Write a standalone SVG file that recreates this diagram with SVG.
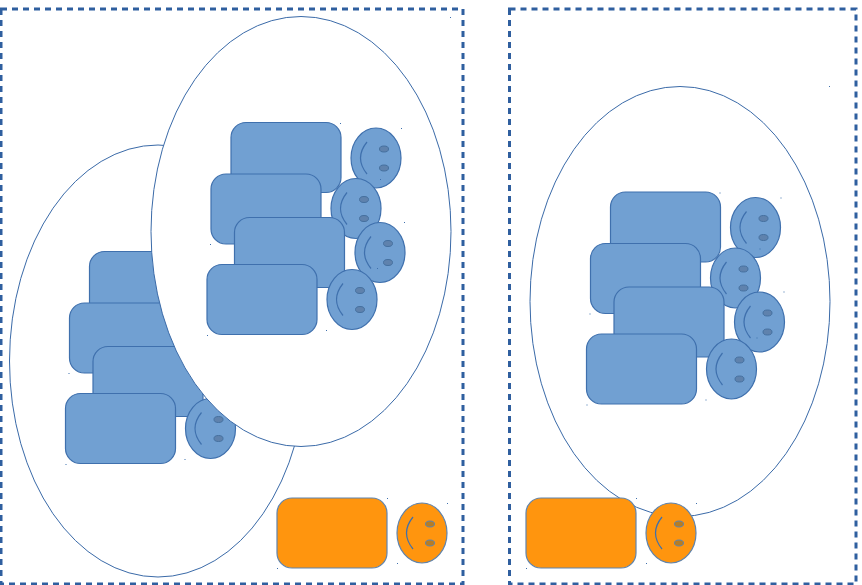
<svg xmlns="http://www.w3.org/2000/svg" width="862" height="585" viewBox="0 0 862 585">
<style>
.frame{fill:none;stroke:#2f5f9f;stroke-width:3;stroke-dasharray:6 5}
.zone{fill:#fff;stroke:#3a6aa8;stroke-width:1}
.b{fill:#71a0d2;stroke:#3f70ad;stroke-width:1.2}
.o{fill:#ff950e;stroke:#5f84ae;stroke-width:1.2}
.smile{fill:none;stroke:#3f70ad;stroke-width:1.2}
.be{fill:#5f82ad;stroke:#45709f;stroke-width:1}
.oe{fill:#b67d25;stroke:#5f84ae;stroke-width:1}
.dot{fill:#3f70ad}
</style>
<defs>
<rect id="box" width="110" height="70" rx="15"/>
<g id="bf"><ellipse class="b" cx="25" cy="30" rx="25" ry="30"/><path class="smile" d="M16 14Q3 30 16 46"/><ellipse class="be" cx="33" cy="21" rx="4.500" ry="3"/><ellipse class="be" cx="33" cy="40" rx="4.500" ry="3"/></g>
<g id="of"><ellipse class="o" cx="25" cy="30" rx="25" ry="30"/><path class="smile" d="M16 14Q3 30 16 46"/><ellipse class="oe" cx="33" cy="21" rx="4.500" ry="3"/><ellipse class="oe" cx="33" cy="40" rx="4.500" ry="3"/></g>
<g id="set">
<use href="#box" class="b" x="231" y="122.500"/><use href="#bf" x="351" y="128"/>
<use href="#box" class="b" x="211" y="174"/><use href="#bf" x="331" y="178.500"/>
<use href="#box" class="b" x="234.500" y="217.500"/><use href="#bf" x="355" y="222.500"/>
<use href="#box" class="b" x="207" y="264.500"/><use href="#bf" x="327" y="269.500"/>
<g class="dot"><rect x="340" y="123" width="1" height="1"/><rect x="401" y="128" width="1" height="1"/><rect x="380" y="179" width="1" height="1"/><rect x="210" y="244" width="1" height="1"/><rect x="404" y="222" width="1" height="1"/><rect x="377" y="268" width="1" height="1"/><rect x="326" y="330" width="1" height="1"/><rect x="207" y="335" width="1" height="1"/></g>
</g>
</defs>
<g id="frame-left"><rect class="frame" x="1" y="9" width="462" height="575"/><rect class="dot" x="450" y="17" width="1" height="1"/></g>
<g id="frame-right"><rect class="frame" x="509.500" y="9" width="346.500" height="575"/><rect class="dot" x="829" y="86" width="1" height="1"/></g>
<g id="zone-left"><ellipse class="zone" cx="158" cy="361" rx="148.500" ry="216"/></g>
<g id="set-left" transform="translate(-141.500 129)"><use href="#set"/></g>
<g id="zone-top"><ellipse class="zone" cx="301" cy="231.500" rx="150" ry="215"/></g>
<g id="set-top"><use href="#set"/></g>
<g id="zone-right"><ellipse class="zone" cx="680" cy="301.500" rx="150" ry="215"/></g>
<g id="set-right" transform="translate(379.500 69.500)"><use href="#set"/></g>
<g id="orange-left"><use href="#box" class="o" x="277" y="498"/><use href="#of" x="397" y="503"/><g class="dot"><rect x="387" y="498" width="1" height="1"/><rect x="447" y="503" width="1" height="1"/><rect x="397" y="563" width="1" height="1"/><rect x="277" y="568" width="1" height="1"/></g></g>
<g id="orange-right"><use href="#box" class="o" x="526" y="498"/><use href="#of" x="646" y="503"/><g class="dot"><rect x="636" y="498" width="1" height="1"/><rect x="696" y="503" width="1" height="1"/><rect x="646" y="563" width="1" height="1"/><rect x="526" y="568" width="1" height="1"/></g></g>
</svg>
